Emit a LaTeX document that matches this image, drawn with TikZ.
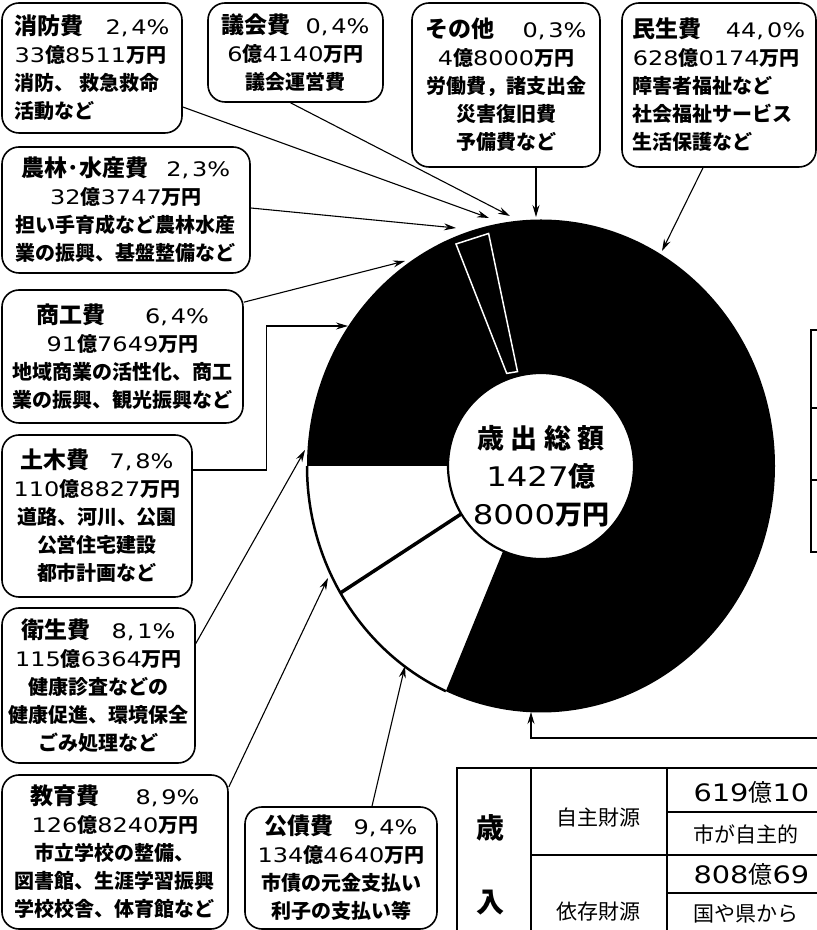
\documentclass[tikz,border=0pt]{standalone}
\usepackage{fontspec}
\setmainfont{Noto Sans CJK JP}
\newfontfamily\numfont{DejaVu Sans}[FakeStretch=1.2]
\usetikzlibrary{arrows.meta,calc}
\newcommand{\nm}[1]{{\numfont\mdseries #1}}
\newcommand{\pc}[2]{{\numfont\mdseries #1,\hspace{3pt}#2\%}}
\newcommand{\ttl}[1]{{\fontsize{23}{28}\selectfont #1}}

\begin{document}
\begin{tikzpicture}[x=1pt, y=1pt,
	    box/.style={draw, line width=1.6pt, rounded corners=17pt, align=center, inner sep=0pt,
	      font=\fontsize{20}{28}\selectfont\bfseries},
	    lead/.style={->, line width=1.1pt},
	    cell/.style={font=\fontsize{21}{24}\selectfont}]
	    \tikzset{>={Stealth[length=12pt, width=7pt, inset=4pt]}}
	    \useasboundingbox (0,0) rectangle (817,930);
	    \clip (0,0) rectangle (817,930);
	    \coordinate (C) at (541,464);
	    \fill (C) ++(180:234 and 246.5) arc [start angle=180, end angle=-114, x radius=234, y radius=246.5]
	      -- ($(C)+(-114:93)$) arc [start angle=-114, end angle=180, radius=93] -- cycle;
	    \draw [line width=2.5pt] (C) ++(180:234 and 246.5) arc [start angle=180, end angle=246, x radius=234, y radius=246.5];
	    \draw [line width=2.2pt] (C) circle [radius=93];
	    \draw [line width=3.5pt] ($(C)+(211:93)$) -- ($(C)+(211:234 and 246.5)$);
	    \draw [white, line width=1.5pt] (456,686) -- (488.6,696.5) -- (517.5,558.4) -- (506.7,556.6) -- cycle;
	    \node [font=\fontsize{27}{38}\selectfont\bfseries, align=center] (total) at (541,454)
	      {歳 出 総 額\\\nm{1427}億\\\nm{8000}万円};
	    \node [box, align=left, minimum width=180pt, minimum height=130pt] (shobo) at (92,862)
	      {\ttl{消防費}\hspace{22pt}\pc{2}{4}\\\nm{33}億\nm{8511}万円\\消防、 救急救命\\活動など};
	    \node [box, minimum width=175pt, minimum height=99pt] (gikai) at (295.5,877.5)
	      {\ttl{議会費}\hspace{15pt}\pc{0}{4}\\\nm{6}億\nm{4140}万円\\議会運営費};
	    \node [box, minimum width=188pt, minimum height=164pt] (sonota) at (506,845)
	      {\ttl{その他}\hspace{28pt}\pc{0}{3}\\\nm{4}億\nm{8000}万円\\労働費，諸支出金\\災害復旧費\\予備費など};
	    \node [box, align=left, minimum width=194pt, minimum height=164pt] (minsei) at (719,845)
	      {\ttl{民生費}\hspace{24pt}\pc{44}{0}\\\nm{628}億\nm{0174}万円\\障害者福祉など\\社会福祉サービス\\生活保護など};
	    \node [box, minimum width=248pt, minimum height=126pt] (norin) at (126,720)
	      {\ttl{農林･水産費}\hspace{18pt}\pc{2}{3}\\\nm{32}億\nm{3747}万円\\担い手育成など農林水産\\業の振興、基盤整備など};
	    \node [box, minimum width=241pt, minimum height=133pt] (shoko) at (122.5,573.5)
	      {\ttl{商工費}\hspace{40pt}\pc{6}{4}\\\nm{91}億\nm{7649}万円\\地域商業の活性化、商工\\業の振興、観光振興など};
	    \node [box, minimum width=190pt, minimum height=162pt] (doboku) at (97,414)
	      {\ttl{土木費}\hspace{20pt}\pc{7}{8}\\\nm{110}億\nm{8827}万円\\道路、河川、公園\\公営住宅建設\\都市計画など};
	    \node [box, minimum width=193pt, minimum height=155pt] (eisei) at (98.5,244.5)
	      {\ttl{衛生費}\hspace{21pt}\pc{8}{1}\\\nm{115}億\nm{6364}万円\\健康診査などの\\健康促進、環境保全\\ごみ処理など};
	    \node [box, minimum width=226pt, minimum height=154pt] (kyoiku) at (115,78)
	      {\ttl{教育費}\hspace{36pt}\pc{8}{9}\\\nm{126}億\nm{8240}万円\\市立学校の整備、\\図書館、生涯学習振興\\学校校舎、体育館など};
	    \node [box, minimum width=192pt, minimum height=122pt] (kosai) at (341,62)
	      {\ttl{公債費}\hspace{20pt}\pc{9}{4}\\\nm{134}億\nm{4640}万円\\市債の元金支払い\\利子の支払い等};
	    \coordinate (shoboT) at (489,712);
	    \coordinate (gikaiT) at (510,714);
	    \coordinate (sonotaT) at (536,713);
	    \coordinate (minseiT) at (662,679);
	    \coordinate (norinT) at (456,702);
	    \coordinate (shokoT) at (405,669);
	    \coordinate (dobokuT) at (348,604);
	    \coordinate (eiseiT) at (305,480);
	    \coordinate (kyoikuT) at (328,352);
	    \coordinate (kosaiT) at (405,264);
	    \coordinate (botT) at (531,218);
	    \coordinate (R) at (830,192);
	    \draw [lead] ([yshift=-39pt]shobo.east) -- (shoboT);
	    \draw [lead] ([xshift=-5pt]gikai.south) -- (gikaiT);
	    \draw [lead] ([xshift=30pt]sonota.south) -- (sonotaT);
	    \draw [lead] ([xshift=-16pt]minsei.south) -- (minseiT);
	    \draw [lead] ([yshift=2pt]norin.east) -- (norinT);
	    \draw [lead] ([yshift=-13pt]shoko.north east) -- (shokoT);
	    \draw [lead] ([yshift=46pt]doboku.east) -- ++(74,0) |- (dobokuT);
	    \draw [lead] ([yshift=42pt]eisei.east) -- (eiseiT);
	    \draw [lead] ([yshift=65pt]kyoiku.east) -- (kyoikuT);
	    \draw [lead] ([xshift=31pt]kosai.north) -- (kosaiT);
	    \draw [lead] (R) -| (botT);
	    \draw [line width=1.4pt] (811,378) rectangle (840,600);
	    \draw [line width=1.4pt] (811,522) -- (840,522) (811,450) -- (840,450);
	    \draw [line width=1.6pt] (457,-10) rectangle (900,162);
	    \draw [line width=1.4pt] (531,-10) -- (531,162) (667,-10) -- (667,162);
	    \draw [line width=1.4pt] (531,75) -- (900,75) (667,118) -- (900,118) (667,37) -- (900,37);
	    \node [cell, font=\fontsize{28}{30}\selectfont\bfseries] (sai) at (490,102) {歳};
	    \node [cell, font=\fontsize{28}{30}\selectfont\bfseries] (nyu) at (490,27) {入};
	    \node [cell] (jishu) at (598,112) {自主財源};
	    \node [cell] (izon) at (598,18) {依存財源};
	    \node [cell, anchor=west, font=\fontsize{24}{26}\selectfont] (jishuA) at (690,138) {\nm{619}億\nm{10}};
	    \node [cell, anchor=west] (jishuB) at (690,96) {市が自主的};
	    \node [cell, anchor=west, font=\fontsize{24}{26}\selectfont] (izonA) at (690,56) {\nm{808}億\nm{69}};
	    \node [cell, anchor=west] (izonB) at (690,16) {国や県から};
\end{tikzpicture}
\end{document}
